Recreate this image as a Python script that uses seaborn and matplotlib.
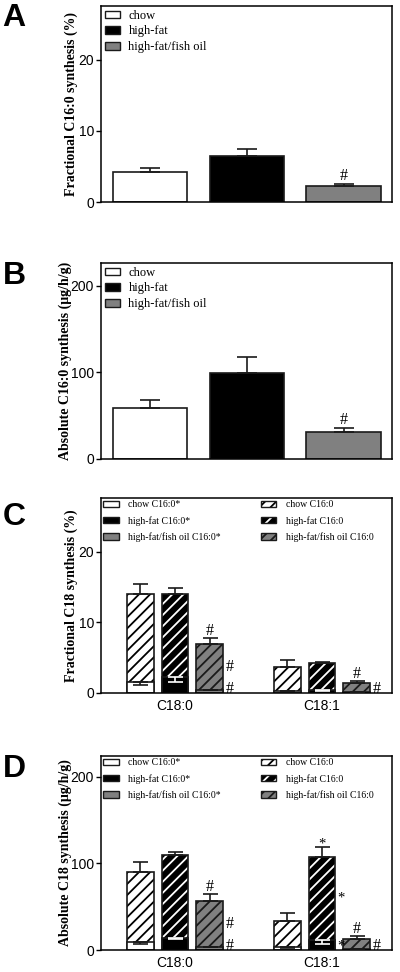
import numpy as np
import pandas as pd
import matplotlib.pyplot as plt
import seaborn as sns
from matplotlib.patches import Patch, Rectangle

sns.set_style('ticks')
plt.rcParams['font.family'] = 'Liberation Sans'
plt.rcParams['hatch.linewidth'] = 1.3
for k in ['text.color', 'axes.labelcolor', 'xtick.color', 'ytick.color', 'axes.edgecolor']:
    plt.rcParams[k] = 'black'

# 데이터
diets = ['chow', 'high-fat', 'high-fat/fish oil']
fatty_acids = ['C18:0', 'C18:1']
fill_colors = ['white', 'black', '#808080']
hatch_colors = ['black', 'white', '#1a1a1a']
edge = '#1a1a1a'

# A: fractional C16:0 synthesis (%)
frac_c16 = [4.2, 6.5, 2.25]
frac_c16_sem = [0.6, 1.0, 0.35]

# B: absolute C16:0 synthesis
abs_c16 = [59, 99.5, 31.5]
abs_c16_sem = [9, 18, 4.6]

# C: fractional C18 synthesis, rows = diet, cols = C18:0 / C18:1
frac_c18_c16 = [[14.0, 3.7], [14.05, 4.2], [6.97, 1.37]]
frac_c18_c16_sem = [[1.4, 0.9], [0.75, 0.2], [0.75, 0.33]]
frac_c18_c16star = [[1.5, 0.33], [2.2, 0.4], [0.42, 0.12]]
frac_c18_c16star_sem = [[0.37, 0.05], [0.6, 0.1], [0.05, 0.03]]

# D: absolute C18 synthesis
abs_c18_c16 = [[90.5, 33.9], [110, 107.9], [56.6, 12.3]]
abs_c18_c16_sem = [[11.5, 8.5], [3, 11.5], [7.8, 3.9]]
abs_c18_c16star = [[8.9, 3.1], [13.5, 11.6], [3.9, 1.2]]
abs_c18_c16star_sem = [[2.4, 0.5], [1.1, 4.7], [0.5, 0.3]]

# 유의성 표시 (fatty acid, diet, 위치, 기호)
marks_a = [(0, 2, 'top', '#')]
marks_b = [(0, 2, 'top', '#')]
marks_c = [(0, 2, 'top', '#'), (0, 2, 'side', '#'), (0, 2, 'base', '#'),
           (1, 2, 'top', '#'), (1, 2, 'base', '#')]
marks_d = [(0, 2, 'top', '#'), (0, 2, 'side', '#'), (0, 2, 'base', '#'),
           (1, 1, 'top', '*'), (1, 1, 'side', '*'), (1, 1, 'base', '*'),
           (1, 2, 'top', '#'), (1, 2, 'base', '#')]

serif = {'family': 'Liberation Serif'}


def style_axes(ax, ylim, yticks, ylabel, label_x):
    ax.set_ylim(*ylim)
    ax.set_yticks(yticks)
    ax.set_ylabel(ylabel, fontdict=dict(serif, size=10, weight='bold'))
    ax.yaxis.set_label_coords(label_x, 0.5)
    ax.set_xlabel('')
    for s in ax.spines.values():
        s.set_visible(True)
        s.set_linewidth(1.1)
        s.set_color('black')
    ax.tick_params(axis='y', length=3.6, width=1.0, pad=1.5, labelsize=10)


def annotate(ax, x_left, x_right, top, star, mark):
    pos, sym = mark
    xc = (x_left + x_right) / 2
    fs = 10.5 if sym == '*' else 11.5
    if pos == 'top':
        off = -1 if sym == '*' else 2.5
        ax.annotate(sym, (xc, top), xytext=(0, off), textcoords='offset points',
                    ha='center', va='baseline', fontsize=fs, **serif)
    elif pos == 'side':
        ax.annotate(sym, (x_right, (star + top) / 2), xytext=(1.5, 0),
                    textcoords='offset points', ha='left', va='center',
                    fontsize=fs, **serif)
    else:
        ax.annotate(sym, (x_right, 0), xytext=(1.5, 0), textcoords='offset points',
                    ha='left', va='baseline', fontsize=fs, **serif)


def simple_panel(ax, values, sems, ylim, yticks, ylabel, marks, label_x):
    df = pd.DataFrame({'diet': diets, 'value': values})
    sns.barplot(data=df, x='diet', y='value', hue='diet', palette=fill_colors,
                width=0.77, edgecolor=edge, linewidth=1.2, legend=False, ax=ax)
    bars = sorted([p for c in ax.containers for p in c], key=lambda p: p.get_x())
    xs = [p.get_x() + p.get_width() / 2 for p in bars]
    ax.errorbar(xs, values, yerr=[np.zeros(3), sems], fmt='none', ecolor=edge,
                elinewidth=1.2, capsize=7.2, capthick=1.2)
    for _, d, pos, sym in marks:
        p = bars[d]
        annotate(ax, p.get_x(), p.get_x() + p.get_width(), values[d] + sems[d], 0, (pos, sym))
    ax.set_xlim(-0.507, 2.5)
    ax.set_xticks([])
    style_axes(ax, ylim, yticks, ylabel, label_x)
    handles = [Patch(facecolor=c, edgecolor=edge, linewidth=1.0) for c in fill_colors]
    ax.legend(handles, diets, loc='upper left', bbox_to_anchor=(0, 1), frameon=False,
              prop=dict(serif, size=9), handlelength=1.2, handleheight=0.56,
              handletextpad=0.7, labelspacing=0.3, borderaxespad=0, borderpad=0.3)


def stacked_panel(ax, total, total_sem, star, star_sem, ylim, yticks, ylabel, marks, label_x):
    rows = []
    for d, diet in enumerate(diets):
        for f, fa in enumerate(fatty_acids):
            rows.append({'fa': fa, 'diet': diet, 'total': total[d][f], 'star': star[d][f]})
    df = pd.DataFrame(rows)

    # C16:0 유래 (빗금, 전체 높이)
    sns.barplot(data=df, x='fa', y='total', hue='diet', hue_order=diets, order=fatty_acids,
                palette=fill_colors, width=0.71, gap=0.23, legend=False, ax=ax)
    hatched = []
    for d, cont in enumerate(ax.containers):
        ps = sorted(cont, key=lambda p: p.get_x())
        hatched.append(ps)
        for p in ps:
            p.set_hatch('///')
            p.set_edgecolor(hatch_colors[d])
            p.set_linewidth(0)
            ax.add_patch(Rectangle(p.get_xy(), p.get_width(), p.get_height(), fill=False,
                                   edgecolor=edge, linewidth=1.2, zorder=p.get_zorder() + 0.1))
    n_before = len(ax.containers)

    # C16:0* 유래 (아래 실선 막대)
    sns.barplot(data=df, x='fa', y='star', hue='diet', hue_order=diets, order=fatty_acids,
                palette=fill_colors, width=0.71, gap=0.23, edgecolor=edge, linewidth=1.2,
                legend=False, ax=ax)
    for c in ax.containers[n_before:]:
        for p in c:
            p.set_zorder(1.5)

    for d in range(3):
        xs = [p.get_x() + p.get_width() / 2 for p in hatched[d]]
        ax.errorbar(xs, total[d], yerr=[np.zeros(2), total_sem[d]], fmt='none', ecolor=edge,
                    elinewidth=1.2, capsize=5.4, capthick=1.2, zorder=3)
        ax.errorbar(xs, star[d], yerr=[star_sem[d], np.zeros(2)], fmt='none',
                    ecolor='white' if d == 1 else edge,
                    elinewidth=1.2, capsize=5.4, capthick=1.2, zorder=3)

    for f, d, pos, sym in marks:
        p = hatched[d][f]
        top = total[d][f] + (total_sem[d][f] if pos == 'top' else 0)
        annotate(ax, p.get_x(), p.get_x() + p.get_width(), top, star[d][f], (pos, sym))

    ax.set_xlim(-0.503, 1.476)
    ax.tick_params(axis='x', length=0, pad=4, labelsize=10)
    style_axes(ax, ylim, yticks, ylabel, label_x)

    solid = [Patch(facecolor=c, edgecolor=edge, linewidth=1.0) for c in fill_colors]
    striped = [(Patch(facecolor=c, edgecolor=h, hatch='///', linewidth=0),
                Patch(fill=False, edgecolor=edge, linewidth=1.0))
               for c, h in zip(fill_colors, hatch_colors)]
    kw = dict(loc='upper left', frameon=False, prop=dict(serif, size=7),
              handlelength=1.55, handleheight=0.62, handletextpad=1.0,
              labelspacing=0.67, borderaxespad=0, borderpad=0.25)
    leg1 = ax.legend(solid, [d + ' C16:0*' for d in diets], bbox_to_anchor=(0, 1), **kw)
    ax.add_artist(leg1)
    ax.legend(striped, [d + ' C16:0' for d in diets], bbox_to_anchor=(0.542, 1), **kw)


fig = plt.figure(figsize=(4, 9.72), dpi=100)
ax_a = fig.add_axes([0.2525, 0.79218, 0.7275, 0.20165])
ax_b = fig.add_axes([0.2525, 0.52778, 0.7275, 0.20165])
ax_c = fig.add_axes([0.2525, 0.28704, 0.7275, 0.2006])
ax_d = fig.add_axes([0.2525, 0.02263, 0.7275, 0.1996])

simple_panel(ax_a, frac_c16, frac_c16_sem, (0, 27.6), [0, 10, 20],
             'Fractional C16:0 synthesis (%)', marks_a, -0.08)
simple_panel(ax_b, abs_c16, abs_c16_sem, (0, 226), [0, 100, 200],
             'Absolute C16:0 synthesis (\u03bcg/h/g)', marks_b, -0.10)
stacked_panel(ax_c, frac_c18_c16, frac_c18_c16_sem, frac_c18_c16star, frac_c18_c16star_sem,
              (0, 27.6), [0, 10, 20], 'Fractional C18 synthesis (%)', marks_c, -0.08)
stacked_panel(ax_d, abs_c18_c16, abs_c18_c16_sem, abs_c18_c16star, abs_c18_c16star_sem,
              (0, 224), [0, 100, 200], 'Absolute C18 synthesis (\u03bcg/h/g)', marks_d, -0.10)

# 패널 라벨
for y, letter in zip([0.9974, 0.7310, 0.4840, 0.2238], 'ABCD'):
    fig.text(0.006, y, letter, fontsize=23, fontweight='bold', va='top', ha='left')

plt.savefig('out.png', dpi=100)
